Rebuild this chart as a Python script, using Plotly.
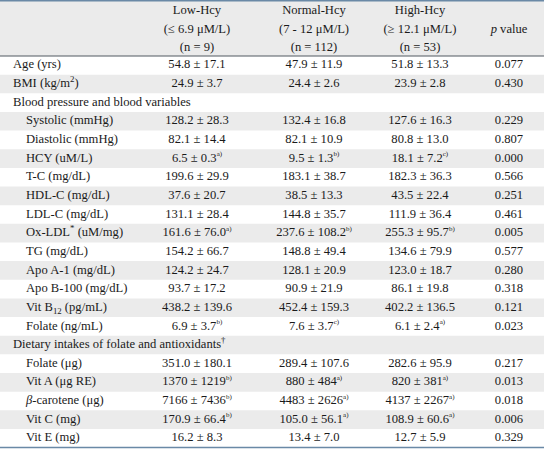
import plotly.graph_objects as go

# ---------------- data ----------------
col_headers = [
    ["Low-Hcy", "(≤ 6.9 μM/L)", "(n = 9)"],
    ["Normal-Hcy", "(7 - 12 μM/L)", "(n = 112)"],
    ["High-Hcy", "(≥ 12.1 μM/L)", "(n = 53)"],
    ["", "<i>p</i> value", ""],
]

row_labels = [
    "Age (yrs)", "BMI (kg/m<sup>2</sup>)", "Blood pressure and blood variables",
    "Systolic (mmHg)", "Diastolic (mmHg)", "HCY (uM/L)", "T-C (mg/dL)", "HDL-C (mg/dL)",
    "LDL-C (mg/dL)", "Ox-LDL<sup>*</sup> (uM/mg)", "TG (mg/dL)", "Apo A-1 (mg/dL)",
    "Apo B-100 (mg/dL)", "Vit B<sub>12</sub> (pg/mL)", "Folate (ng/mL)",
    "Dietary intakes of folate and antioxidants<sup>†</sup>",
    "Folate (μg)", "Vit A (μg RE)", "<i>β</i>-carotene (μg)", "Vit C (mg)", "Vit E (mg)",
]
row_indent = [0, 0, 0, 1, 1, 1, 1, 1, 1, 1, 1, 1, 1, 1, 1, 0, 1, 1, 1, 1, 1]

low = ["54.8 ± 17.1", "24.9 ± 3.7", "", "128.2 ± 28.3", "82.1 ± 14.4", "6.5 ± 0.3",
       "199.6 ± 29.9", "37.6 ± 20.7", "131.1 ± 28.4", "161.6 ± 76.0", "154.2 ± 66.7",
       "124.2 ± 24.7", "93.7 ± 17.2", "438.2 ± 139.6", "6.9 ± 3.7", "",
       "351.0 ± 180.1", "1370 ± 1219", "7166 ± 7436", "170.9 ± 66.4", "16.2 ± 8.3"]
low_sup = ["", "", "", "", "", "a)", "", "", "", "a)", "", "", "", "", "b)", "",
           "", "b)", "b)", "b)", ""]

normal = ["47.9 ± 11.9", "24.4 ± 2.6", "", "132.4 ± 16.8", "82.1 ± 10.9", "9.5 ± 1.3",
          "183.1 ± 38.7", "38.5 ± 13.3", "144.8 ± 35.7", "237.6 ± 108.2", "148.8 ± 49.4",
          "128.1 ± 20.9", "90.9 ± 21.9", "452.4 ± 159.3", "7.6 ± 3.7", "",
          "289.4 ± 107.6", "880 ± 484", "4483 ± 2626", "105.0 ± 56.1", "13.4 ± 7.0"]
normal_sup = ["", "", "", "", "", "b)", "", "", "", "b)", "", "", "", "", "c)", "",
              "", "a)", "a)", "a)", ""]

high = ["51.8 ± 13.3", "23.9 ± 2.8", "", "127.6 ± 16.3", "80.8 ± 13.0", "18.1 ± 7.2",
        "182.3 ± 36.3", "43.5 ± 22.4", "111.9 ± 36.4", "255.3 ± 95.7", "134.6 ± 79.9",
        "123.0 ± 18.7", "86.1 ± 19.8", "402.2 ± 136.5", "6.1 ± 2.4", "",
        "282.6 ± 95.9", "820 ± 381", "4137 ± 2267", "108.9 ± 60.6", "12.7 ± 5.9"]
high_sup = ["", "", "", "", "", "c)", "", "", "", "b)", "", "", "", "", "a)", "",
            "", "a)", "a)", "a)", ""]

p_values = ["0.077", "0.430", "", "0.229", "0.807", "0.000", "0.566", "0.251", "0.461",
            "0.005", "0.577", "0.280", "0.318", "0.121", "0.023", "",
            "0.217", "0.013", "0.018", "0.006", "0.329"]

# ---------------- layout constants ----------------
W, H = 544, 449
header_bottom = 56
table_bottom = 447.6
n_rows = len(row_labels)
row_h = (table_bottom - header_bottom) / n_rows
col_centers = [197, 314, 420, 509]
label_x = [13, 26]
header_line_y = [11, 29.5, 47.5]
FONT = "Liberation Serif, Times New Roman, serif"
FS = 12.6
stripe = "#ebebeb"
txt_col = "#1a1a1a"


def with_sup(v, s):
    if not s:
        return v
    return v + "<sup><span style='font-size:7px'>" + s + "</span></sup>"


def text_trace(xs, ys, texts, pos):
    pts = [(x, y, t) for x, y, t in zip(xs, ys, texts) if t]
    return go.Scatter(
        x=[p[0] for p in pts], y=[p[1] for p in pts], text=[p[2] for p in pts],
        mode="text", textposition=pos,
        textfont=dict(family=FONT, size=FS, color=txt_col),
        hoverinfo="skip", showlegend=False)


row_y = [header_bottom + (i + 0.5) * row_h for i in range(n_rows)]

fig = go.Figure()

# background shapes
shapes = [dict(type="rect", xref="x", yref="y", x0=0, x1=W, y0=0, y1=header_bottom,
               fillcolor=stripe, line_width=0, layer="below")]
for i in range(n_rows):
    if i % 2 == 1:
        shapes.append(dict(type="rect", xref="x", yref="y", x0=0, x1=W,
                           y0=header_bottom + i * row_h, y1=header_bottom + (i + 1) * row_h,
                           fillcolor=stripe, line_width=0, layer="below"))
shapes.append(dict(type="line", xref="x", yref="y", x0=0, x1=W, y0=0.7, y1=0.7,
                   line=dict(color="#6a89a6", width=1.5)))
shapes.append(dict(type="line", xref="x", yref="y", x0=0, x1=W, y0=header_bottom, y1=header_bottom,
                   line=dict(color="#505860", width=1)))
shapes.append(dict(type="line", xref="x", yref="y", x0=0, x1=W, y0=table_bottom, y1=table_bottom,
                   line=dict(color="#6a89a6", width=1.5)))

# header text
for c, lines in enumerate(col_headers):
    fig.add_trace(text_trace([col_centers[c]] * 3, header_line_y, lines, "middle center"))

# row labels
fig.add_trace(text_trace([label_x[k] for k in row_indent], row_y, row_labels, "middle right"))

# value columns
for c, (vals, sups) in enumerate([(low, low_sup), (normal, normal_sup), (high, high_sup)]):
    fig.add_trace(text_trace([col_centers[c]] * n_rows, row_y,
                             [with_sup(v, s) if v else "" for v, s in zip(vals, sups)],
                             "middle center"))

fig.add_trace(text_trace([col_centers[3]] * n_rows, row_y, p_values, "middle center"))

fig.update_layout(
    width=W, height=H, margin=dict(l=0, r=0, t=0, b=0),
    paper_bgcolor="white", plot_bgcolor="white",
    xaxis=dict(range=[0, W], visible=False, fixedrange=True),
    yaxis=dict(range=[H, 0], visible=False, fixedrange=True),
    shapes=shapes,
)

fig.write_html("out.html", config={"displayModeBar": False},
               post_script="document.body.style.margin='0';document.body.style.overflow='hidden';")
